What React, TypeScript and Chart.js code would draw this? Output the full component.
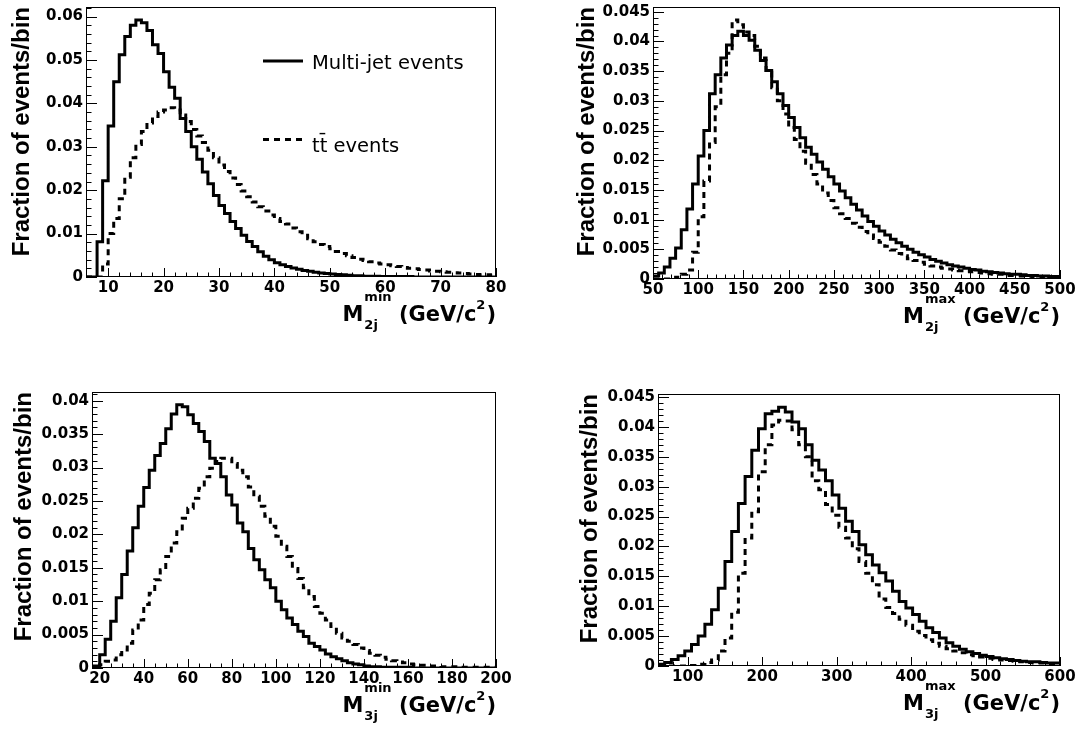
import React, { useEffect, useRef } from 'react';
import { Chart, registerables } from 'chart.js';

Chart.register(...registerables);

// ---------------- text ----------------
const SERIES_LABELS = ['Multi-jet events', 'tt\u0304 events'];
const Y_TITLE = 'Fraction of events/bin';

// ---------------- panel (a): M2j min ----------------
const m2jMinBinStart = 6;
const m2jMinBinWidth = 1;
const m2jMinMultijet = [
  0, 0, 0.0081, 0.0222, 0.0348, 0.045, 0.0512, 0.0554, 0.058, 0.0592,
  0.0586, 0.0568, 0.0535, 0.0515, 0.0473, 0.0437, 0.0412, 0.0365, 0.0335, 0.030,
  0.0271, 0.0242, 0.0215, 0.0188, 0.0165, 0.0146, 0.0128, 0.0112, 0.0096, 0.0082,
  0.007, 0.0058, 0.0048, 0.004, 0.0033, 0.0028, 0.0024, 0.0021, 0.0018, 0.0015,
  0.0013, 0.0011, 0.0009, 0.0008, 0.0007, 0.0006, 0.0005, 0.0004, 0.0003, 0.0003,
  0.0002, 0.0002, 0.0002, 0.0001, 0.0001, 0.0001, 0.0001, 0.0001, 0.0001, 0,
  0, 0, 0, 0, 0, 0, 0, 0, 0, 0,
  0, 0, 0, 0,
];
const m2jMinTtbar = [
  0, 0, 0, 0.003, 0.010, 0.0135, 0.018, 0.023, 0.0275, 0.0305,
  0.0335, 0.0355, 0.037, 0.038, 0.0385, 0.039, 0.0385, 0.0373, 0.0358, 0.034,
  0.0325, 0.031, 0.0292, 0.0275, 0.0258, 0.0243, 0.0228, 0.0213, 0.0198, 0.0185,
  0.0173, 0.0162, 0.0152, 0.0143, 0.0135, 0.0128, 0.0122, 0.0113, 0.0104, 0.0096,
  0.0088, 0.0081, 0.0075, 0.007, 0.0065, 0.0059, 0.0054, 0.0049, 0.0045, 0.0041,
  0.0038, 0.0035, 0.0032, 0.003, 0.0028, 0.0026, 0.0024, 0.0022, 0.002, 0.0019,
  0.0017, 0.0016, 0.0014, 0.0013, 0.0012, 0.0011, 0.001, 0.0009, 0.0008, 0.0007,
  0.0006, 0.0005, 0.0005, 0.0004,
];
const m2jMinXTicks = [10, 20, 30, 40, 50, 60, 70, 80];
const m2jMinXLabels = ['10', '20', '30', '40', '50', '60', '70', '80'];
const m2jMinYTicks = [0, 0.01, 0.02, 0.03, 0.04, 0.05, 0.06];
const m2jMinYLabels = ['0', '0.01', '0.02', '0.03', '0.04', '0.05', '0.06'];

// ---------------- panel (b): M2j max ----------------
const m2jMaxBinStart = 50;
const m2jMaxBinWidth = 6.25;
const m2jMaxMultijet = [
  0.0005, 0.001, 0.002, 0.0035, 0.0052, 0.0083, 0.0118, 0.016, 0.0207, 0.025,
  0.0312, 0.0344, 0.0372, 0.0394, 0.041, 0.0417, 0.041, 0.0402, 0.0385, 0.0368,
  0.0351, 0.0332, 0.0312, 0.0292, 0.0272, 0.0255, 0.0238, 0.0222, 0.021, 0.0197,
  0.0185, 0.0172, 0.016, 0.0148, 0.0137, 0.0126, 0.0116, 0.0106, 0.0097, 0.0089,
  0.0081, 0.0074, 0.0067, 0.0061, 0.0055, 0.005, 0.0045, 0.0041, 0.0037, 0.0033,
  0.003, 0.0027, 0.0024, 0.0022, 0.002, 0.0018, 0.0016, 0.0015, 0.0013, 0.0012,
  0.0011, 0.001, 0.0009, 0.0008, 0.0008, 0.0007, 0.0006, 0.0006, 0.0005, 0.0005,
  0.0004, 0.0004,
];
const m2jMaxTtbar = [
  0, 0, 0, 0, 0.0003, 0.0008, 0.0015, 0.0045, 0.0105, 0.0165,
  0.023, 0.029, 0.0344, 0.038, 0.0436, 0.0428, 0.0416, 0.041, 0.0392, 0.0372,
  0.0348, 0.0322, 0.030, 0.0278, 0.0255, 0.0235, 0.0215, 0.0195, 0.0176, 0.016,
  0.0145, 0.0132, 0.012, 0.011, 0.0102, 0.0094, 0.0087, 0.008, 0.0074, 0.0068,
  0.0062, 0.0055, 0.0049, 0.0043, 0.0039, 0.0034, 0.0031, 0.0028, 0.0025, 0.0022,
  0.002, 0.0018, 0.0017, 0.0015, 0.0014, 0.0013, 0.0012, 0.0011, 0.001, 0.0009,
  0.0008, 0.0008, 0.0007, 0.0006, 0.0006, 0.0005, 0.0005, 0.0004, 0.0004, 0.0003,
  0.0003, 0.0003,
];
const m2jMaxXTicks = [50, 100, 150, 200, 250, 300, 350, 400, 450, 500];
const m2jMaxXLabels = ['50', '100', '150', '200', '250', '300', '350', '400', '450', '500'];
const m2jMaxYTicks = [0, 0.005, 0.01, 0.015, 0.02, 0.025, 0.03, 0.035, 0.04, 0.045];
const m2jMaxYLabels = ['0', '0.005', '0.01', '0.015', '0.02', '0.025', '0.03', '0.035', '0.04', '0.045'];

// ---------------- panel (c): M3j min ----------------
const m3jMinBinStart = 15;
const m3jMinBinWidth = 2.5;
const m3jMinMultijet = [
  0, 0.0003, 0.002, 0.0043, 0.007, 0.0105, 0.014, 0.0175, 0.021, 0.0242,
  0.027, 0.0296, 0.0318, 0.0336, 0.0358, 0.038, 0.0394, 0.0391, 0.0379, 0.0366,
  0.0354, 0.0339, 0.0314, 0.0306, 0.0286, 0.0259, 0.0244, 0.0217, 0.0204, 0.0179,
  0.0162, 0.0147, 0.0132, 0.012, 0.01, 0.0087, 0.0075, 0.0065, 0.0055, 0.0047,
  0.0037, 0.0032, 0.0027, 0.0021, 0.0017, 0.0014, 0.0011, 0.0008, 0.0006, 0.0005,
  0.0003, 0.0002, 0.0002, 0.0001, 0.0001, 0.0001, 0.0001, 0.0001, 0.0001, 0,
  0, 0, 0, 0, 0, 0, 0, 0, 0, 0,
  0, 0, 0, 0,
];
const m3jMinTtbar = [
  0, 0, 0.0005, 0.001, 0.0012, 0.002, 0.0027, 0.0037, 0.0057, 0.0072,
  0.0095, 0.0112, 0.0132, 0.0147, 0.0167, 0.0187, 0.0204, 0.0224, 0.0239, 0.0254,
  0.0269, 0.0286, 0.0299, 0.0309, 0.0314, 0.0314, 0.0306, 0.0296, 0.0286, 0.0271,
  0.0257, 0.0242, 0.0227, 0.0212, 0.0197, 0.0182, 0.0167, 0.0149, 0.0134, 0.012,
  0.0107, 0.0092, 0.0082, 0.0072, 0.0062, 0.0052, 0.0045, 0.004, 0.0035, 0.003,
  0.0026, 0.0022, 0.0019, 0.0016, 0.0013, 0.0011, 0.0009, 0.0008, 0.0006, 0.0005,
  0.0004, 0.0004, 0.0003, 0.0003, 0.0002, 0.0002, 0.0002, 0.0001, 0.0001, 0.0001,
  0.0001, 0.0001, 0.0001, 0.0001,
];
const m3jMinXTicks = [20, 40, 60, 80, 100, 120, 140, 160, 180, 200];
const m3jMinXLabels = ['20', '40', '60', '80', '100', '120', '140', '160', '180', '200'];
const m3jMinYTicks = [0, 0.005, 0.01, 0.015, 0.02, 0.025, 0.03, 0.035, 0.04];
const m3jMinYLabels = ['0', '0.005', '0.01', '0.015', '0.02', '0.025', '0.03', '0.035', '0.04'];

// ---------------- panel (d): M3j max ----------------
const m3jMaxBinStart = 60;
const m3jMaxBinWidth = 9;
const m3jMaxMultijet = [
  0.0003, 0.0006, 0.0011, 0.0017, 0.0025, 0.0036, 0.005, 0.007, 0.0094, 0.013,
  0.0175, 0.0225, 0.0272, 0.0317, 0.0361, 0.0397, 0.0422, 0.0426, 0.0433, 0.0425,
  0.0408, 0.0397, 0.037, 0.0344, 0.0328, 0.031, 0.0286, 0.0264, 0.0242, 0.0225,
  0.0203, 0.0186, 0.0169, 0.0156, 0.0142, 0.0125, 0.0108, 0.0097, 0.0086, 0.0075,
  0.0064, 0.0056, 0.0047, 0.0039, 0.0033, 0.0028, 0.0024, 0.0021, 0.0018, 0.0016,
  0.0014, 0.0012, 0.0011, 0.0009, 0.0008, 0.0007, 0.0007, 0.0006, 0.0005, 0.0005,
];
const m3jMaxTtbar = [
  0, 0, 0, 0, 0, 0.0001, 0.0003, 0.0006, 0.001, 0.0025,
  0.0047, 0.009, 0.0155, 0.0214, 0.0258, 0.0325, 0.037, 0.0403, 0.0411, 0.041,
  0.0395, 0.037, 0.035, 0.031, 0.0295, 0.027, 0.0252, 0.0232, 0.0214, 0.0196,
  0.0175, 0.0155, 0.0136, 0.0112, 0.0098, 0.0088, 0.0078, 0.0068, 0.0058, 0.0051,
  0.0044, 0.0038, 0.0033, 0.0029, 0.0025, 0.0022, 0.0019, 0.0017, 0.0015, 0.0013,
  0.0011, 0.001, 0.0009, 0.0008, 0.0007, 0.0006, 0.0005, 0.0005, 0.0004, 0.0004,
];
const m3jMaxXTicks = [100, 200, 300, 400, 500, 600];
const m3jMaxXLabels = ['100', '200', '300', '400', '500', '600'];
const m3jMaxYTicks = [0, 0.005, 0.01, 0.015, 0.02, 0.025, 0.03, 0.035, 0.04, 0.045];
const m3jMaxYLabels = ['0', '0.005', '0.01', '0.015', '0.02', '0.025', '0.03', '0.035', '0.04', '0.045'];

// ---------------- layout / style config ----------------
const CW = 541;
const CH = 365;
const TICK_FONT = { family: "'DejaVu Sans'", weight: 'bold' as const, size: 15 };
const YTITLE_FONT = { family: "'Liberation Sans'", weight: 'bold' as const, size: 24, lineHeight: 1 };

type Panel = {
  left: number; top: number;
  frame: { l: number; r: number; t: number; b: number };
  titlePad: number;
  xMin: number; xMax: number; yMax: number;
  binStart: number; binWidth: number;
  multijet: number[]; ttbar: number[];
  xTicks: number[]; xLabels: string[]; xMinor: number;
  yTicks: number[]; yLabels: string[]; yMinor: number;
  xTitle: { main: string; sub: string; sup: string; unit: string; unitSup: string; close: string };
  legend: boolean;
};

const panels: Panel[] = [
  {
    left: 0, top: 0, frame: { l: 86, r: 496, t: 7, b: 277 }, titlePad: 10,
    xMin: 6, xMax: 80, yMax: 0.0622,
    binStart: m2jMinBinStart, binWidth: m2jMinBinWidth, multijet: m2jMinMultijet, ttbar: m2jMinTtbar,
    xTicks: m2jMinXTicks, xLabels: m2jMinXLabels, xMinor: 2,
    yTicks: m2jMinYTicks, yLabels: m2jMinYLabels, yMinor: 0.002,
    xTitle: { main: 'M', sub: '2j', sup: 'min', unit: ' (GeV/c', unitSup: '2', close: ')' },
    legend: true,
  },
  {
    left: 541, top: 0, frame: { l: 112, r: 519, t: 7, b: 279 }, titlePad: 34,
    xMin: 50, xMax: 500, yMax: 0.0458,
    binStart: m2jMaxBinStart, binWidth: m2jMaxBinWidth, multijet: m2jMaxMultijet, ttbar: m2jMaxTtbar,
    xTicks: m2jMaxXTicks, xLabels: m2jMaxXLabels, xMinor: 10,
    yTicks: m2jMaxYTicks, yLabels: m2jMaxYLabels, yMinor: 0.001,
    xTitle: { main: 'M', sub: '2j', sup: 'max', unit: ' (GeV/c', unitSup: '2', close: ')' },
    legend: false,
  },
  {
    left: 0, top: 365, frame: { l: 92, r: 496, t: 27, b: 303 }, titlePad: 12,
    xMin: 16.5, xMax: 200, yMax: 0.0413,
    binStart: m3jMinBinStart, binWidth: m3jMinBinWidth, multijet: m3jMinMultijet, ttbar: m3jMinTtbar,
    xTicks: m3jMinXTicks, xLabels: m3jMinXLabels, xMinor: 5,
    yTicks: m3jMinYTicks, yLabels: m3jMinYLabels, yMinor: 0.001,
    xTitle: { main: 'M', sub: '3j', sup: 'min', unit: ' (GeV/c', unitSup: '2', close: ')' },
    legend: false,
  },
  {
    left: 541, top: 365, frame: { l: 117, r: 519, t: 29, b: 301 }, titlePad: 37,
    xMin: 60, xMax: 600, yMax: 0.0455,
    binStart: m3jMaxBinStart, binWidth: m3jMaxBinWidth, multijet: m3jMaxMultijet, ttbar: m3jMaxTtbar,
    xTicks: m3jMaxXTicks, xLabels: m3jMaxXLabels, xMinor: 20,
    yTicks: m3jMaxYTicks, yLabels: m3jMaxYLabels, yMinor: 0.001,
    xTitle: { main: 'M', sub: '3j', sup: 'max', unit: ' (GeV/c', unitSup: '2', close: ')' },
    legend: false,
  },
];

function histPoints(start: number, width: number, values: number[]) {
  const pts: { x: number; y: number }[] = [];
  values.forEach((v, i) => {
    pts.push({ x: start + i * width, y: v });
    pts.push({ x: start + (i + 1) * width, y: v });
  });
  return pts;
}

const rootStyle = {
  id: 'rootStyle',
  afterDatasetsDraw(chart: any, _args: any, o: any) {
    const { ctx, chartArea: a } = chart;
    const xs = chart.scales.x;
    const ys = chart.scales.y;
    const eps = 1e-7;
    ctx.save();
    ctx.strokeStyle = '#000';
    ctx.lineWidth = 1;
    ctx.setLineDash([]);
    ctx.beginPath();
    // y-axis ticks (inside frame)
    const nY = Math.floor(ys.max / o.yMinor + eps);
    for (let i = 0; i <= nY; i++) {
      const v = i * o.yMinor;
      const major = o.yMajor.some((m: number) => Math.abs(m - v) < eps);
      const len = major ? 11 : 5.5;
      const py = Math.round(ys.getPixelForValue(v)) + 0.5;
      ctx.moveTo(a.left, py);
      ctx.lineTo(a.left + len, py);
    }
    // x-axis ticks (inside frame)
    const k0 = Math.ceil(xs.min / o.xMinor - eps);
    const k1 = Math.floor(xs.max / o.xMinor + eps);
    for (let k = k0; k <= k1; k++) {
      const v = k * o.xMinor;
      const major = o.xMajor.some((m: number) => Math.abs(m - v) < eps);
      const len = major ? 9 : 4.5;
      const px = Math.round(xs.getPixelForValue(v)) + 0.5;
      ctx.moveTo(px, a.bottom);
      ctx.lineTo(px, a.bottom - len);
    }
    ctx.stroke();
    // frame
    ctx.strokeRect(Math.round(a.left) + 0.5, Math.round(a.top) + 0.5,
      Math.round(a.right - a.left) - 1, Math.round(a.bottom - a.top) - 1);

    // x-axis title with sub/superscripts, right-aligned to frame
    const t = o.xTitle;
    const big = "bold 21px 'DejaVu Sans'";
    const small = "bold 13px 'DejaVu Sans'";
    ctx.fillStyle = '#000';
    ctx.textAlign = 'left';
    ctx.textBaseline = 'alphabetic';
    ctx.font = big;
    const wM = ctx.measureText(t.main).width;
    const wU = ctx.measureText(t.unit).width;
    const wC = ctx.measureText(t.close).width;
    ctx.font = small;
    const wSub = ctx.measureText(t.sub).width;
    const wSup = ctx.measureText(t.sup).width;
    const wUS = ctx.measureText(t.unitSup).width;
    const wSS = Math.max(wSub, wSup);
    const total = wM + 1 + wSS + wU + wUS + 1 + wC;
    let cx = a.right - total;
    const by = a.bottom + o.titleOffset;
    ctx.font = big;
    ctx.fillText(t.main, cx, by);
    cx += wM + 1;
    ctx.font = small;
    ctx.fillText(t.sup, cx, by - 20);
    ctx.fillText(t.sub, cx, by + 8);
    cx += wSS;
    ctx.font = big;
    ctx.fillText(t.unit, cx, by);
    cx += wU;
    ctx.font = small;
    ctx.fillText(t.unitSup, cx, by - 12);
    cx += wUS + 1;
    ctx.font = big;
    ctx.fillText(t.close, cx, by);

    // legend
    if (o.legend) {
      const ds = chart.data.datasets;
      const rows = [
        { i: 0, lineY: 61, textY: 69 },
        { i: 1, lineY: 139.5, textY: 152 },
      ];
      rows.forEach((r) => {
        const d = ds[r.i];
        ctx.lineWidth = d.borderWidth;
        ctx.setLineDash(d.borderDash || []);
        ctx.beginPath();
        ctx.moveTo(263, r.lineY);
        ctx.lineTo(303, r.lineY);
        ctx.stroke();
        ctx.setLineDash([]);
        ctx.font = "19.5px 'DejaVu Sans'";
        ctx.fillText(d.label, 312, r.textY);
      });
    }
    ctx.restore();
  },
};

function buildConfig(p: Panel): any {
  const labelFor = (ticks: number[], labels: string[]) => (value: number) => {
    const idx = ticks.findIndex((t) => Math.abs(t - value) < 1e-9);
    return idx >= 0 ? labels[idx] : '';
  };
  return {
    type: 'line',
    data: {
      datasets: [
        {
          label: SERIES_LABELS[0],
          data: histPoints(p.binStart, p.binWidth, p.multijet),
          borderColor: '#000', borderWidth: 3, pointRadius: 0, tension: 0, fill: false,
          borderJoinStyle: 'miter', borderCapStyle: 'butt',
        },
        {
          label: SERIES_LABELS[1],
          data: histPoints(p.binStart, p.binWidth, p.ttbar),
          borderColor: '#000', borderWidth: 3, borderDash: [6, 5], pointRadius: 0, tension: 0, fill: false,
          borderJoinStyle: 'miter', borderCapStyle: 'butt',
        },
      ],
    },
    options: {
      animation: false,
      responsive: false,
      devicePixelRatio: 1,
      events: [],
      layout: { padding: { left: 0, top: p.frame.t, right: CW - p.frame.r, bottom: 0 } },
      plugins: {
        legend: { display: false },
        tooltip: { enabled: false },
        rootStyle: {
          yMajor: p.yTicks, yMinor: p.yMinor, xMajor: p.xTicks, xMinor: p.xMinor,
          xTitle: p.xTitle, titleOffset: 44, legend: p.legend,
        },
      },
      scales: {
        x: {
          type: 'linear', min: p.xMin, max: p.xMax,
          grid: { display: false, drawTicks: false },
          border: { display: false },
          ticks: {
            color: '#000', font: TICK_FONT, padding: 2, autoSkip: false, maxRotation: 0, minRotation: 0,
            callback: labelFor(p.xTicks, p.xLabels),
          },
          afterBuildTicks: (s: any) => { s.ticks = p.xTicks.map((v) => ({ value: v })); },
          afterFit: (s: any) => {
            s.height = CH - p.frame.b;
            s.paddingLeft = 0; s.paddingRight = 0; s.paddingTop = 0; s.paddingBottom = 0;
          },
        },
        y: {
          type: 'linear', min: 0, max: p.yMax,
          grid: { display: false, drawTicks: false },
          border: { display: false },
          ticks: {
            color: '#000', font: TICK_FONT, padding: 3, autoSkip: false,
            callback: labelFor(p.yTicks, p.yLabels),
          },
          title: {
            display: true, text: Y_TITLE, align: 'end', color: '#000',
            font: YTITLE_FONT, padding: { top: p.titlePad, bottom: 0 },
          },
          afterBuildTicks: (s: any) => { s.ticks = p.yTicks.map((v) => ({ value: v })); },
          afterFit: (s: any) => {
            s.width = p.frame.l;
            s.paddingLeft = 0; s.paddingRight = 0; s.paddingTop = 0; s.paddingBottom = 0;
          },
        },
      },
    },
    plugins: [rootStyle],
  };
}

function HistPanel({ p }: { p: Panel }) {
  const ref = useRef<HTMLCanvasElement>(null);
  useEffect(() => {
    const chart = new Chart(ref.current as HTMLCanvasElement, buildConfig(p));
    return () => chart.destroy();
  }, [p]);
  return (
    <canvas
      ref={ref}
      width={CW}
      height={CH}
      style={{ position: 'absolute', left: p.left, top: p.top, width: CW, height: CH }}
    />
  );
}

export default function App() {
  return (
    <div style={{ position: 'absolute', left: 0, top: 0, width: 1082, height: 730, background: '#fff', overflow: 'hidden' }}>
      {panels.map((p, i) => (
        <HistPanel key={i} p={p} />
      ))}
    </div>
  );
}
